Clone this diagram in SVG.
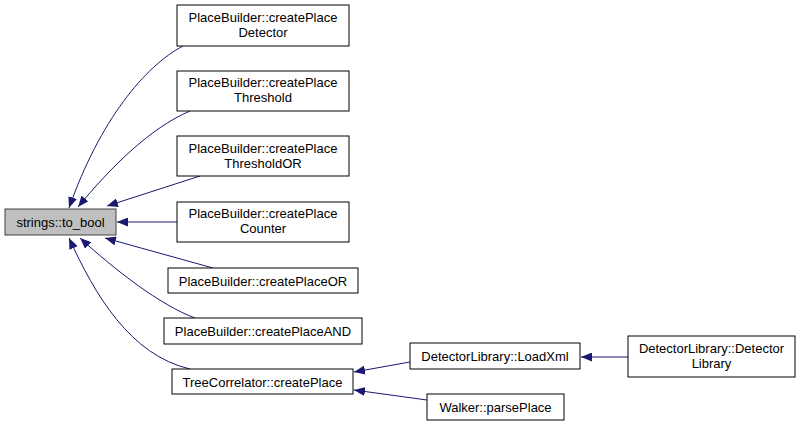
<svg xmlns="http://www.w3.org/2000/svg" width="800" height="426" viewBox="0 0 800 426">
<defs>
<marker id="ah" viewBox="0 0 11 9" refX="11" refY="4.5" markerWidth="11" markerHeight="9" markerUnits="userSpaceOnUse" orient="auto">
<polygon points="0,0 11,4.5 0,9" fill="#191970"/>
</marker>
<style>
.n rect{fill:#fff;stroke:#000;stroke-width:1}
.n.g rect{fill:#bfbfbf;stroke:#404040}
text{font-family:"Liberation Sans",Arial,sans-serif;font-size:13px;text-anchor:middle;fill:#000}
#edges path{fill:none;stroke:#191970;stroke-width:1;marker-end:url(#ah)}
</style>
</defs>
<rect width="800" height="426" fill="#fff"/>
<g id="edges">
<path d="M183,46 C145,66 100,120 69,208"/>
<path d="M190,111 C150,128 110,168 78,207"/>
<path d="M200,176 L107,206"/>
<path d="M177,222 L117,222"/>
<path d="M213,268 L105,238"/>
<path d="M195,318 C160,305 115,270 80,238"/>
<path d="M190,369 C130,355 95,295 69,238"/>
<path d="M410,362 L354,372"/>
<path d="M427,400 L354,390"/>
<path d="M628,357 L581,357"/>
</g>
<g id="to_bool" class="n g"><rect x="5" y="209" width="111" height="26"/><text x="60.5" y="226.5">strings::to_bool</text></g>
<g id="cpDetector" class="n"><rect x="177" y="5" width="172" height="41"/><text x="263" y="22">PlaceBuilder::createPlace</text><text x="263" y="37">Detector</text></g>
<g id="cpThreshold" class="n"><rect x="177" y="71" width="172" height="40"/><text x="263" y="87">PlaceBuilder::createPlace</text><text x="263" y="102">Threshold</text></g>
<g id="cpThresholdOR" class="n"><rect x="177" y="136" width="172" height="40"/><text x="263" y="153">PlaceBuilder::createPlace</text><text x="263" y="168">ThresholdOR</text></g>
<g id="cpCounter" class="n"><rect x="177" y="202" width="172" height="40"/><text x="263" y="218">PlaceBuilder::createPlace</text><text x="263" y="233">Counter</text></g>
<g id="cpOR" class="n"><rect x="168" y="268" width="190" height="25"/><text x="263" y="285.5">PlaceBuilder::createPlaceOR</text></g>
<g id="cpAND" class="n"><rect x="164" y="318" width="198" height="26"/><text x="263" y="335.5">PlaceBuilder::createPlaceAND</text></g>
<g id="tcCreatePlace" class="n"><rect x="172" y="369" width="181" height="25"/><text x="262.5" y="386.5">TreeCorrelator::createPlace</text></g>
<g id="loadXml" class="n"><rect x="410" y="343" width="170" height="26"/><text x="495" y="360.5">DetectorLibrary::LoadXml</text></g>
<g id="parsePlace" class="n"><rect x="427" y="394" width="137" height="26"/><text x="495.5" y="411.5">Walker::parsePlace</text></g>
<g id="detLib" class="n"><rect x="628" y="336" width="167" height="41"/><text x="711.5" y="353">DetectorLibrary::Detector</text><text x="711.5" y="368">Library</text></g>
</svg>
